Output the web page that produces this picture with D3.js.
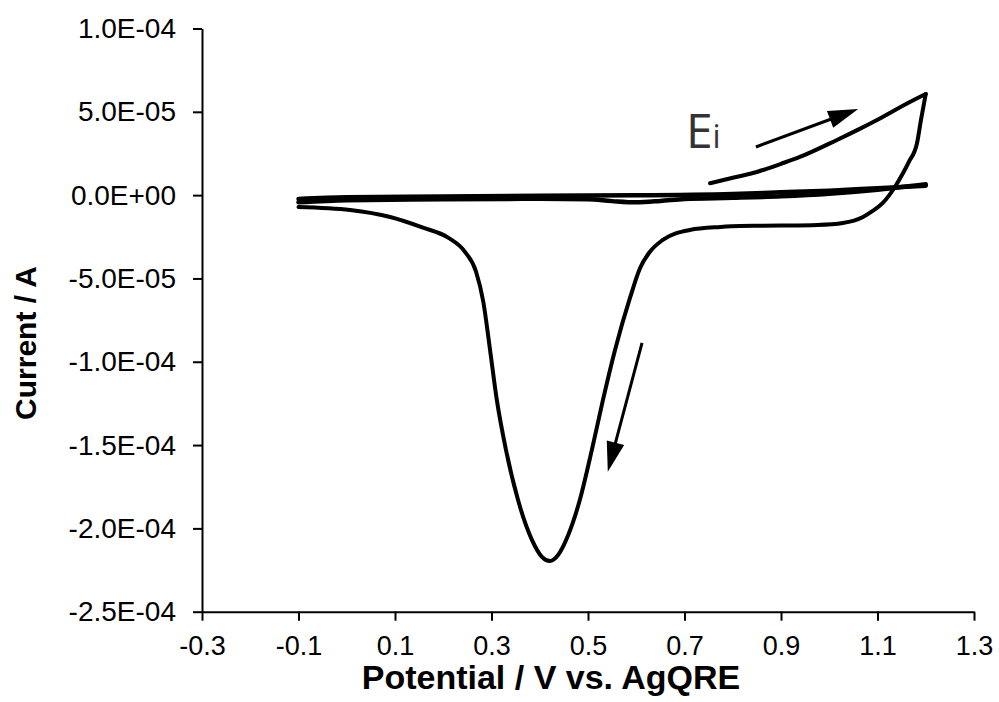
<!DOCTYPE html>
<html>
<head>
<meta charset="utf-8">
<script src="https://cdn.jsdelivr.net/npm/d3@7/dist/d3.min.js"></script>
<style>
  html, body { margin: 0; padding: 0; background: #fff; }
  svg { display: block; }
</style>
</head>
<body>
<svg id="chart" width="999" height="702"></svg>
<script>
// ---------------- DATA ----------------
const xTicks = [-0.3, -0.1, 0.1, 0.3, 0.5, 0.7, 0.9, 1.1, 1.3];
const xTickLabels = ["-0.3", "-0.1", "0.1", "0.3", "0.5", "0.7", "0.9", "1.1", "1.3"];
const yTicks = [1.0e-4, 5.0e-5, 0, -5.0e-5, -1.0e-4, -1.5e-4, -2.0e-4, -2.5e-4];
const yTickLabels = ["1.0E-04", "5.0E-05", "0.0E+00", "-5.0E-05", "-1.0E-04", "-1.5E-04", "-2.0E-04", "-2.5E-04"];

// Initial anodic sweep from Ei (potential in V, current in µA)
const scan1V = [0.753, 0.80, 0.85, 0.90, 0.939, 1.016, 1.06, 1.099, 1.167, 1.20];
const scan1I = [7.1, 10.4, 13.9, 18.8, 22.9, 33.1, 39.3, 45.1, 55.9, 60.7];

// Cathodic (reverse) sweep with reduction peak
const scan2V = [1.20, 1.19, 1.182, 1.165, 1.153, 1.136, 1.111, 1.090, 1.070, 1.028, 0.975, 0.90, 0.815, 0.774, 0.711, 0.655, 0.628, 0.608, 0.587, 0.556, 0.531, 0.508, 0.483, 0.459, 0.438, 0.421, 0.405, 0.384, 0.355, 0.330, 0.311, 0.297, 0.283, 0.268, 0.245, 0.210, 0.158, 0.090, 0.007, -0.10];
const scan2I = [60.7, 45.0, 31.3, 20.0, 13.3, 4.9, -4.7, -9.5, -13.1, -16.7, -17.9, -18.3, -18.5, -19.1, -20.9, -26.9, -34.1, -43.7, -61.7, -92.9, -122.9, -152.9, -183.0, -204.0, -216.0, -219.6, -217.2, -207.0, -183.0, -152.9, -122.9, -92.9, -64.0, -46.0, -34.0, -25.5, -19.5, -13.1, -8.9, -7.1];

// Return anodic sweep (near zero)
const scan3V = [-0.10, 0.0, 0.2, 0.4, 0.6, 0.8, 0.9, 1.0, 1.1, 1.2];
const scan3I = [-2.3, -1.3, -0.8, -0.3, -0.1, 0.7, 1.7, 2.7, 4.2, 5.7];

// Second cathodic sweep (near zero, small dip)
const scan4V = [1.2, 1.1, 1.0, 0.9, 0.8, 0.7, 0.65, 0.6, 0.55, 0.5, 0.4, 0.2, 0.0, -0.1];
const scan4I = [6.5, 3.2, 0.8, -0.7, -1.6, -2.3, -3.5, -4.3, -3.6, -2.5, -2.2, -2.5, -3.0, -4.3];

// Annotation arrows (start V, start µA, end V, end µA)
const arrow1 = [0.848, 28.9, 1.060, 51.7];
const arrow2 = [0.612, -88.7, 0.541, -166.0];
const eiLabelPos = [0.703, 28.3];

// ---------------- CHART ----------------
const svg = d3.select("#chart");
const x = d3.scaleLinear().domain([-0.3, 1.3]).range([202, 974]);
const y = d3.scaleLinear().domain([-2.5e-4, 1.0e-4]).range([611.7, 28.5]);

const yAxis = d3.axisLeft(y).tickValues(yTicks)
  .tickFormat((d, i) => yTickLabels[i]).tickSize(9).tickSizeOuter(0).tickPadding(17);
const xAxis = d3.axisBottom(x).tickValues(xTicks)
  .tickFormat((d, i) => xTickLabels[i]).tickSize(9).tickSizeOuter(0).tickPadding(15);

const gy = svg.append("g").attr("transform", `translate(${x(-0.3)},0)`).call(yAxis);
const gx = svg.append("g").attr("transform", `translate(0,${y(-2.5e-4)})`).call(xAxis);

[gx, gy].forEach(g => {
  g.select(".domain").attr("stroke", "#000").attr("stroke-width", 2);
  g.selectAll(".tick line").attr("stroke", "#000").attr("stroke-width", 2);
  g.selectAll(".tick text").attr("fill", "#000")
    .style("font-family", "'Liberation Sans', Arial, sans-serif");
});
gy.selectAll(".tick text").style("font-size", "28px");
gx.selectAll(".tick text").style("font-size", "27px");

// Curve
const toPts = (vs, is) => vs.map((v, k) => [v, is[k] * 1e-6]);
const line = d3.line().x(d => x(d[0])).y(d => y(d[1])).curve(d3.curveMonotoneX);

const segs = [toPts(scan3V, scan3I), toPts(scan4V, scan4I), toPts(scan1V, scan1I), toPts(scan2V, scan2I)];
svg.append("g").selectAll("path").data(segs).join("path")
  .attr("d", line)
  .attr("fill", "none")
  .attr("stroke", "#000")
  .attr("stroke-width", (d, i) => i < 2 ? 4.5 : 4)
  .attr("stroke-linecap", "round")
  .attr("stroke-linejoin", "round");

// Arrows
function drawArrow(a) {
  const x1 = x(a[0]), y1 = y(a[1] * 1e-6), x2 = x(a[2]), y2 = y(a[3] * 1e-6);
  const ang = Math.atan2(y2 - y1, x2 - x1);
  const L = 30, W = 9;
  const bx = x2 - L * Math.cos(ang), by = y2 - L * Math.sin(ang);
  svg.append("line").attr("x1", x1).attr("y1", y1).attr("x2", bx + 2 * Math.cos(ang)).attr("y2", by + 2 * Math.sin(ang))
    .attr("stroke", "#000").attr("stroke-width", 3);
  const px = -Math.sin(ang), py = Math.cos(ang);
  svg.append("polygon")
    .attr("points", [[x2, y2], [bx + W * px, by + W * py], [bx - W * px, by - W * py]].map(p => p.join(",")).join(" "))
    .attr("fill", "#000");
}
drawArrow(arrow1);
drawArrow(arrow2);

// Ei label
const ei = svg.append("text")
  .attr("x", x(eiLabelPos[0])).attr("y", y(eiLabelPos[1] * 1e-6))
  .attr("fill", "#333")
  .style("font-family", "'Open Sans', 'Noto Sans', sans-serif")
  .style("font-size", "48px");
ei.append("tspan").text("E");
ei.append("tspan").style("font-size", "32px").text("i");

// Axis titles
svg.append("text")
  .attr("x", 551).attr("y", 689)
  .attr("text-anchor", "middle")
  .style("font-family", "'Liberation Sans', Arial, sans-serif")
  .style("font-weight", "bold").style("font-size", "34px")
  .text("Potential / V vs. AgQRE");

svg.append("text")
  .attr("transform", "translate(36,343) rotate(-90)")
  .attr("text-anchor", "middle")
  .style("font-family", "'Liberation Sans', Arial, sans-serif")
  .style("font-weight", "bold").style("font-size", "30px")
  .text("Current / A");
</script>
</body>
</html>
